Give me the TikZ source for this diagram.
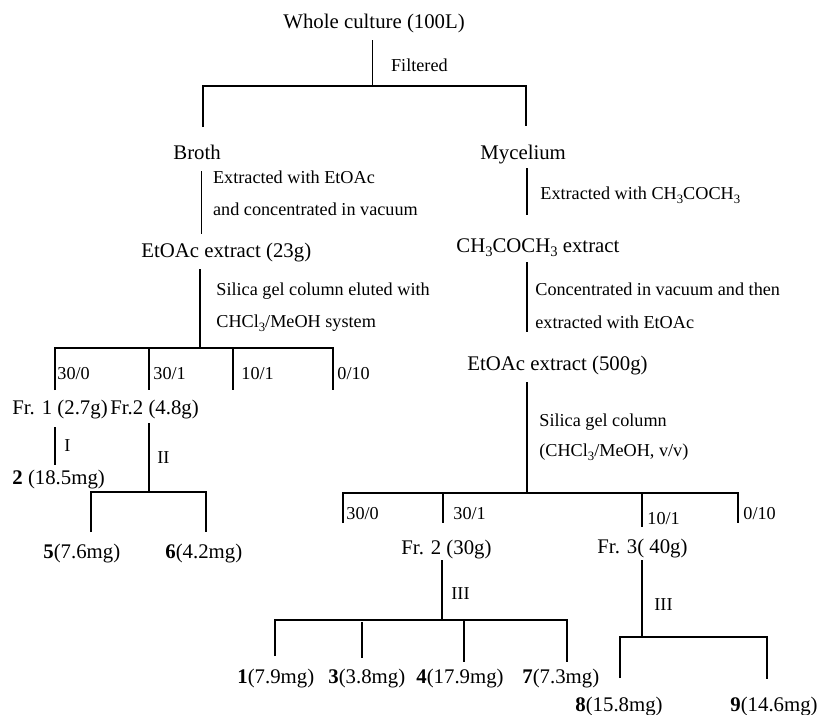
\documentclass[tikz,border=0pt]{standalone}
\usepackage{graphicx}
\usepackage{fontspec}
\setmainfont{Liberation Serif}
\newcommand{\mainf}{\fontsize{10.4}{12}\selectfont}
\newcommand{\annf}{\fontsize{9.1}{11}\selectfont}
\newcommand{\sbs}[1]{\raisebox{-0.5ex}{\scalebox{0.7}{#1}}}
\begin{document}
\begin{tikzpicture}[x=0.5pt,y=-0.5pt,
  mtext/.style={font=\mainf,inner sep=0pt,anchor=base west},
  atext/.style={font=\annf,inner sep=0pt,anchor=base west},
  tline/.style={line width=0.75pt,line cap=butt}]
\useasboundingbox (0,0) rectangle (820,714);
% ---------- main texts ----------
\node[mtext] (whole) at (283,28.5) {Whole culture (100L)};
\node[mtext] (broth) at (173,159) {Broth};
\node[mtext] (myc) at (480,159) {Mycelium};
\node[mtext] (eta) at (141,257) {EtOAc extract (23g)};
\node[mtext] (ace) at (456,252) {CH\sbs{3}COCH\sbs{3} extract};
\node[mtext] (fr1) at (12,414) {Fr. 1 (2.7g)};
\node[mtext] (fr2) at (110,414) {Fr.2 (4.8g)};
\node[mtext] (c2) at (12,484) {\textbf{2} (18.5mg)};
\node[mtext] (c5) at (43,558) {\textbf{5}(7.6mg)};
\node[mtext] (c6) at (165,558) {\textbf{6}(4.2mg)};
\node[mtext] (etb) at (467,370) {EtOAc extract (500g)};
\node[mtext] (frb2) at (401,554) {Fr. 2 (30g)};
\node[mtext] (frb3) at (597,553) {Fr. 3( 40g)};
\node[mtext] (c1) at (237,683) {\textbf{1}(7.9mg)};
\node[mtext] (c3) at (328,683) {\textbf{3}(3.8mg)};
\node[mtext] (c4) at (416,683) {\textbf{4}(17.9mg)};
\node[mtext] (c7) at (522,683) {\textbf{7}(7.3mg)};
\node[mtext] (c8) at (575,711) {\textbf{8}(15.8mg)};
\node[mtext] (c9) at (730,711) {\textbf{9}(14.6mg)};
% ---------- annotations ----------
\node[atext] (filt) at (390.7,71) {Filtered};
\node[atext] (exa) at (212.7,183) {Extracted with EtOAc};
\node[atext] (exb) at (212.7,215) {and concentrated in vacuum};
\node[atext] (sia) at (216,295) {Silica gel column eluted with};
\node[atext] (sib) at (216,327) {CHCl\sbs{3}/MeOH system};
\node[atext] (la1) at (57,379) {30/0};
\node[atext] (la2) at (153,379) {30/1};
\node[atext] (la3) at (241,379) {10/1};
\node[atext] (la4) at (337,379) {0/10};
\node[atext] (rI) at (64,451) {I};
\node[atext] (rII) at (157,463) {II};
\node[atext] (exc) at (540,199) {Extracted with CH\sbs{3}COCH\sbs{3}};
\node[atext] (cva) at (535,295) {Concentrated in vacuum and then};
\node[atext] (cvb) at (535,328) {extracted with EtOAc};
\node[atext] (sic) at (539,426) {Silica gel column};
\node[atext] (sid) at (539,456) {(CHCl\sbs{3}/MeOH, v/v)};
\node[atext] (lb1) at (346,519) {30/0};
\node[atext] (lb2) at (453,519) {30/1};
\node[atext] (lb3) at (647,524) {10/1};
\node[atext] (lb4) at (743,519) {0/10};
\node[atext] (rIIIa) at (451,599) {III};
\node[atext] (rIIIb) at (654,610) {III};
% ---------- lines ----------
\draw[tline] (372.7,40) -- (372.7,86);
\draw[tline] (203,127) -- (203,86) -- (526,86) -- (526,126);
\draw[tline] (201.7,171) -- (201.7,234);
\draw[tline] (200,269) -- (200,348);
\draw[tline] (55,390) -- (55,348) -- (333,348) -- (333,390);
\draw[tline] (149,348) -- (149,390);
\draw[tline] (233,348) -- (233,390);
\draw[tline] (55,427) -- (55,465);
\draw[tline] (149,423) -- (149,492);
\draw[tline] (91,532) -- (91,492) -- (206,492) -- (206,532);
\draw[tline] (527,168) -- (527,215);
\draw[tline] (527,262) -- (527,332);
\draw[tline] (527,382) -- (527,493);
\draw[tline] (343,523) -- (343,493) -- (738,493) -- (738,523);
\draw[tline] (443,493) -- (443,523);
\draw[tline] (642,493) -- (642,527);
\draw[tline] (442,560) -- (442,620);
\draw[tline] (275,656) -- (275,620) -- (567,620) -- (567,662);
\draw[tline] (362,622) -- (362,658);
\draw[tline] (464,620) -- (464,662);
\draw[tline] (642,560) -- (642,637);
\draw[tline] (620,678) -- (620,637) -- (767,637) -- (767,679);
\end{tikzpicture}
\end{document}
